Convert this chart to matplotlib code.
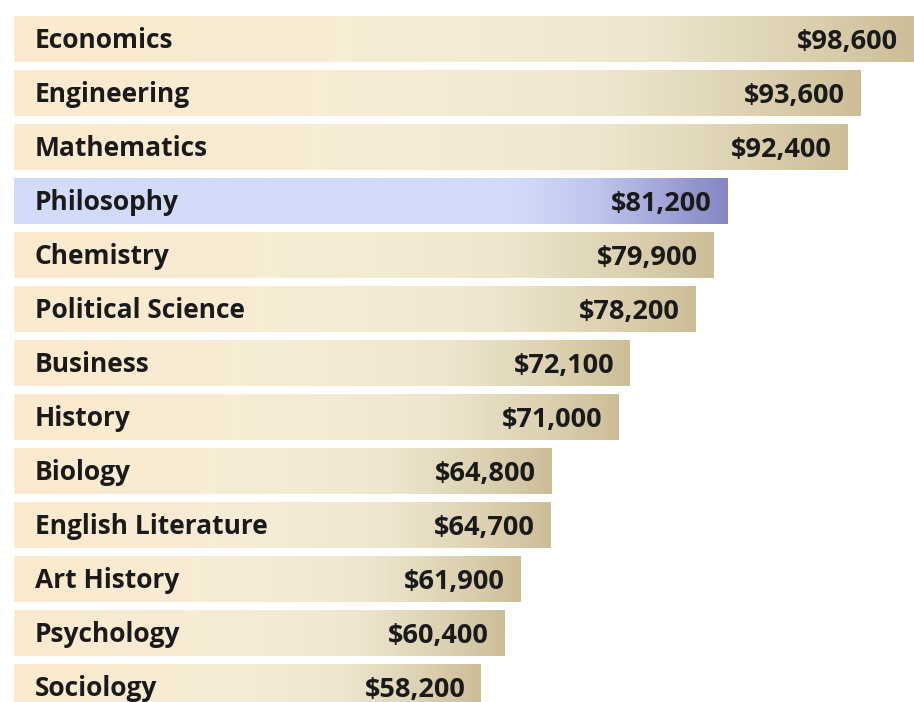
import numpy as np
import matplotlib
matplotlib.use("Agg")
import matplotlib.pyplot as plt
from matplotlib.colors import LinearSegmentedColormap

majors = ["Economics", "Engineering", "Mathematics", "Philosophy", "Chemistry",
          "Political Science", "Business", "History", "Biology",
          "English Literature", "Art History", "Psychology", "Sociology"]
salaries = [98600, 93600, 92400, 81200, 79900, 78200, 72100, 71000,
            64800, 64700, 61900, 60400, 58200]
highlight = "Philosophy"

tan_cmap = LinearSegmentedColormap.from_list("tan", [
    (0.0, "#FCEACD"), (0.45, "#F6EDD6"), (0.7, "#EEE6CF"),
    (0.88, "#DCD1B0"), (1.0, "#CCBE97")])
blue_cmap = LinearSegmentedColormap.from_list("blue", [
    (0.0, "#D2DCF9"), (0.7, "#D2DCF9"), (0.82, "#BEC4EC"),
    (1.0, "#8587C4")])

plt.rcParams['font.family'] = ['Open Sans', 'DejaVu Sans']

fig = plt.figure(figsize=(9.14, 7.02), dpi=100)
ax = fig.add_axes([14 / 914, 0, 900 / 914, 1])

x0 = 14650
x1 = 98600
bar_h = 0.85
n = len(majors)

grad = np.linspace(0, 1, 256).reshape(1, -1)
for i, (m, v) in enumerate(zip(majors, salaries)):
    cmap = blue_cmap if m == highlight else tan_cmap
    ax.imshow(grad, cmap=cmap, aspect='auto', interpolation='bicubic',
              extent=(x0, v, i + bar_h / 2, i - bar_h / 2), zorder=1)
    ax.text(x0 + 1950, i + 0.035, m, ha='left', va='center', fontsize=19,
            fontweight='bold', color='#1a1a1a', zorder=3)
    ax.text(v - 1450, i + 0.06, f"${v:,}", ha='right', va='center', fontsize=19.5,
            fontweight='bold', color='#1a1a1a', zorder=3)

ax.set_xlim(x0, x1)
ax.set_ylim((702 - 39) / 54, -39 / 54)
ax.axis('off')

fig.savefig("out.png", dpi=100)
